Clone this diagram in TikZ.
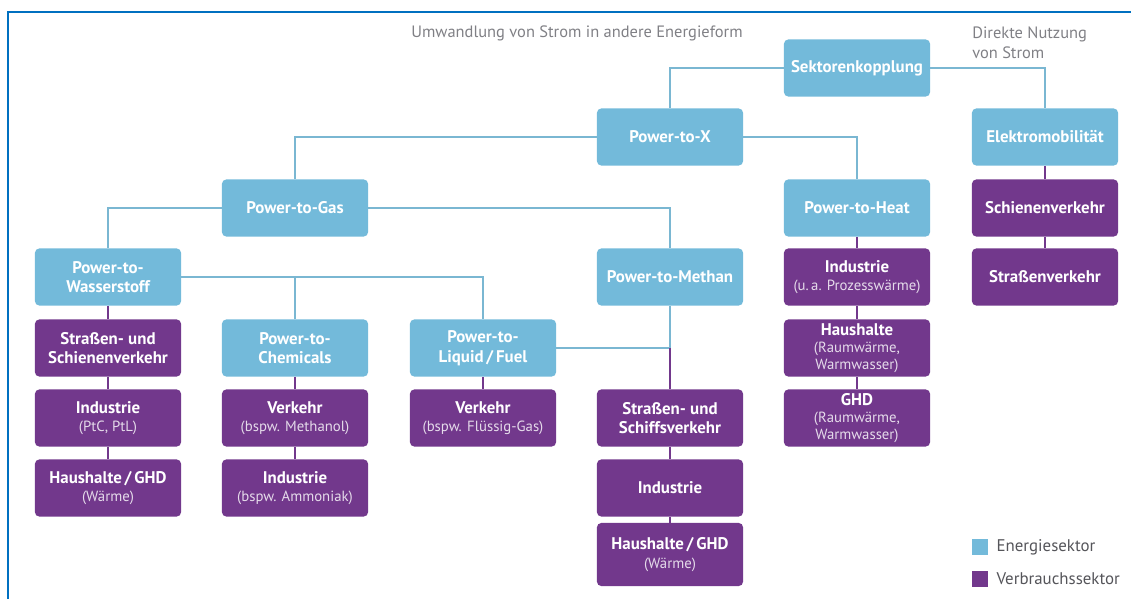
\documentclass[tikz,border=0pt]{standalone}
\usepackage{fontspec}
\setmainfont{PT Sans}
\usetikzlibrary{positioning}
\definecolor{es}{RGB}{115,186,218}
\definecolor{vs}{RGB}{114,56,140}
\definecolor{ln}{RGB}{122,183,210}
\definecolor{rahmen}{RGB}{0,112,192}
\definecolor{hd}{RGB}{128,128,133}
\definecolor{lg}{RGB}{85,85,90}
\newcommand{\zus}[1]{{\mdseries\fontsize{10.5}{12}\selectfont\color{white!82!vs}#1}}

\begin{document}
\begin{tikzpicture}[
        x=0.025cm, y=-0.025cm,
        e/.style={shape=rectangle, rounded corners=3pt, fill=es, text=white,
          font=\bfseries\fontsize{12}{14}\selectfont, align=center,
          minimum width=3.65cm, minimum height=1.425cm, inner sep=1pt},
        vb/.style={e, fill=vs},
        leg/.style={rectangle, minimum size=0.4cm, inner sep=0pt},
        hdtext/.style={text=hd, font=\fontsize{11.7}{14.5}\selectfont},
        lgtext/.style={inner sep=0pt, text=lg, font=\fontsize{12}{14}\selectfont},
        link/.style={line width=1.5pt, ln},
        linkv/.style={line width=1.5pt, vs},
        ]
        \useasboundingbox (0,0) rectangle (1131,599);
        \draw[rahmen, line width=1.5pt] (1131,12) -- (8,12) -- (8,599);

        % headings
        \node(hdl)[hdtext] at (577,33) {Umwandlung von Strom in andere Energieform};
        \node(hdr)[hdtext, align=left, anchor=west, inner sep=0pt] at (972,43) {Direkte Nutzung\\von Strom};

        % energy sector
        \node(sk)   [e] at (857,68)  {Sektorenkopplung};
        \node(ptx)  [e] at (670,137) {Power-to-X};
        \node(emob) [e] at (1045,137){Elektromobilität};
        \node(ptg)  [e] at (295,208) {Power-to-Gas};
        \node(pth)  [e] at (857,208) {Power-to-Heat};
        \node(pth2) [e] at (108,277) {Power-to-\\Wasserstoff};
        \node(ptm)  [e] at (670,277) {Power-to-Methan};
        \node(ptc)  [e] at (295,348) {Power-to-\\Chemicals};
        \node(ptl)  [e] at (483,348) {Power-to-\\Liquid\,/\,Fuel};

        % consumer sector
        \node(schiene)[vb] at (1045,208){Schienenverkehr};
        \node(strasse)[vb] at (1045,277){Straßenverkehr};
        \node(ind1)[vb] at (857,277) {Industrie\\[-1pt]\zus{(u.\,a. Prozesswärme)}};
        \node(hh1) [vb] at (857,348) {Haushalte\\[-2pt]\zus{(Raumwärme,}\\[-2pt]\zus{Warmwasser)}};
        \node(ghd1)[vb] at (857,418) {GHD\\[-2pt]\zus{(Raumwärme,}\\[-2pt]\zus{Warmwasser)}};
        \node(sv1) [vb] at (108,348) {Straßen- und\\Schienenverkehr};
        \node(ind2)[vb] at (108,418) {Industrie\\[-1pt]\zus{(PtC, PtL)}};
        \node(hh2) [vb] at (108,488) {Haushalte\,/\,GHD\\[-1pt]\zus{(Wärme)}};
        \node(vk1) [vb] at (295,418) {Verkehr\\[-1pt]\zus{(bspw. Methanol)}};
        \node(ind3)[vb] at (295,488) {Industrie\\[-1pt]\zus{(bspw. Ammoniak)}};
        \node(vk2) [vb] at (483,418) {Verkehr\\[-1pt]\zus{(bspw. Flüssig-Gas)}};
        \node(sv2) [vb] at (670,418) {Straßen- und\\Schiffsverkehr};
        \node(ind4)[vb] at (670,488) {Industrie};
        \node(hh3) [vb, minimum height=1.575cm] at (670,554.5) {Haushalte\,/\,GHD\\[-1pt]\zus{(Wärme)}};

        % tree
        \draw[link](sk.west) -| (ptx.north);
        \draw[link](sk.east) -| (emob.north);
        \draw[link](ptx.west) -| (ptg.north);
        \draw[link](ptx.east) -| (pth.north);
        \draw[link](ptg.west) -| (pth2.north);
        \draw[link](ptg.east) -| (ptm.north);
        \draw[link](pth2.east) -| (ptl.north);
        \draw[link](ptc.north) -- (ptc.north |- pth2.east);
        \coordinate(knick) at (ptm.south |- ptl.east);
        \draw[link](ptm.south) -- (knick);
        \draw[link](ptl.east) -- (knick);
        \draw[linkv](knick) -- (sv2.north);
        \foreach \a/\b in {emob/schiene, schiene/strasse, pth/ind1, ind1/hh1, hh1/ghd1,
                           pth2/sv1, sv1/ind2, ind2/hh2, ptc/vk1, vk1/ind3,
                           ptl/vk2, sv2/ind4, ind4/hh3}
          \draw[linkv](\a) -- (\b);

        % legend
        \node(leg1)[leg, fill=es] at (980,547) {};
        \node(leg2)[leg, fill=vs] at (980,579) {};
        \node(leg1t)[lgtext, right=0.2cm of leg1] {Energiesektor};
        \node(leg2t)[lgtext, right=0.2cm of leg2] {Verbrauchssektor};
      \end{tikzpicture}
\end{document}
